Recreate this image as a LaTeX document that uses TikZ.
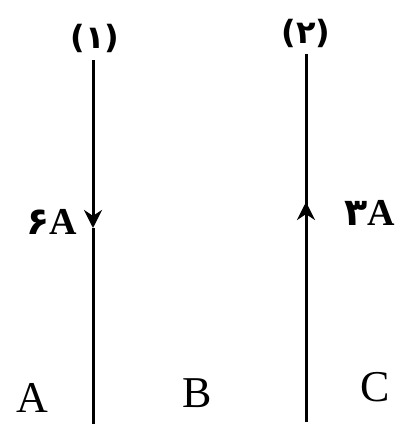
\documentclass[tikz,border=0pt]{standalone}
\usepackage{fontspec}
\setmainfont{Liberation Serif}
\newfontfamily\fadigits[Script=Arabic]{DejaVu Sans}
\usetikzlibrary{arrows.meta,positioning}
\tikzset{
  wire/.style={line width=1.5pt,black},
  midtip/.style={wire,-{Stealth[length=9pt,width=9pt]}},
  region/.style={font=\fontsize{22}{26}\selectfont,inner sep=0pt},
  wirename/.style={font=\fadigits\bfseries\fontsize{16}{18}\selectfont,inner sep=0pt},
  current/.style={font=\bfseries\fontsize{19}{22}\selectfont,inner sep=0pt}
}
\begin{document}
\begin{tikzpicture}[x=0.5pt,y=-0.5pt]
\useasboundingbox (0,0) rectangle (398,424);
% wire 1, current downwards
\coordinate (top1) at (93,60);
\coordinate (mid1) at (93,228);
\coordinate (bot1) at (93,424);
\draw[midtip] (top1) -- (mid1);
\draw[wire] (mid1) -- (bot1);
% wire 2, current upwards
\coordinate (top2) at (306,54);
\coordinate (mid2) at (306,202);
\coordinate (bot2) at (306,422);
\draw[wire] (top2) -- (bot2);
\draw[midtip] (bot2) -- (mid2);
% labels
\node[wirename] (name1) at (95,38) {(۱)};
\node[wirename] (name2) at (306,33) {(۲)};
\node[current] (cur1) at (52,222) {{\fadigits ۶}A};
\node[current] (cur2) at (370,213) {{\fadigits ۳}A};
\node[region] (regA) at (32,398) {A};
\node[region] (regB) at (197,393) {B};
\node[region] (regC) at (375,387) {C};
\end{tikzpicture}
\end{document}
